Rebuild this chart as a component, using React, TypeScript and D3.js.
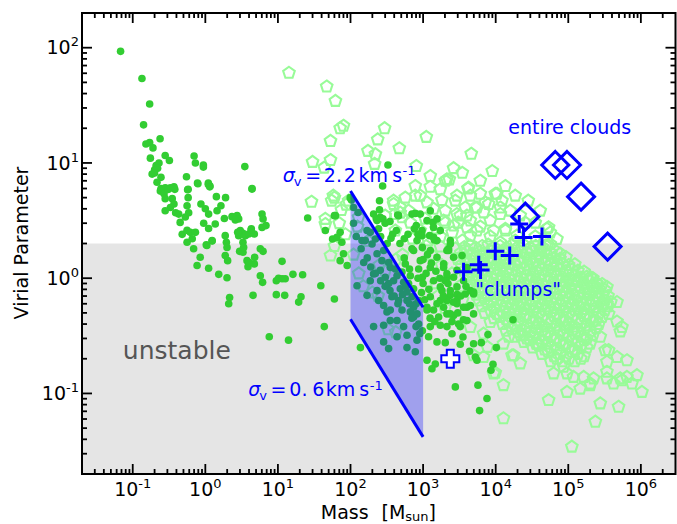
import React from 'react';
import * as d3 from 'd3';

// virial parameter vs mass: dense cores (filled), cloud fragments (pentagons),
// clumps (+) and entire clouds (diamonds)

const lowMassCores: [number, number][] = [
  [0.068, 93], [0.134, 54], [0.171, 32.5], [0.141, 21.4], [0.152, 14.6], [0.171, 15], [0.238, 16.2],
  [0.19, 13.5], [0.175, 11], [0.28, 11.6], [0.32, 10.5], [0.21, 9.5], [0.23, 10], [0.2, 8.7], [0.22, 9],
  [0.185, 8], [0.2, 8.2], [0.245, 7.5], [0.216, 6.8], [0.245, 6], [0.29, 6], [0.33, 6.1], [0.38, 5.9],
  [0.7, 11.5], [0.73, 10], [0.94, 9.6], [0.94, 9.2], [0.55, 7.6], [0.78, 6.7], [1.1, 6.7], [1.16, 6.3],
  [0.58, 5.9], [3.5, 9.3], [4.4, 6.0], [0.28, 6.1], [0.24, 5.7], [0.27, 5.4], [0.31, 5.9], [0.37, 6.2],
  [0.28, 4.9], [0.35, 4.9], [0.37, 4.4], [0.33, 4.1], [0.28, 3.85], [0.39, 3.7], [0.43, 3.6], [0.45, 3.05],
  [0.53, 3.4], [0.59, 3.7], [0.56, 4.25], [0.58, 5.0], [0.57, 5.85], [0.79, 6.6], [1.1, 6.5], [1.15, 6.2],
  [0.48, 2.4], [0.56, 2.6], [0.62, 2.5], [0.73, 2.5], [0.56, 2.05], [0.66, 2.2],
  [0.87, 4.4], [1.0, 4.0], [1.11, 3.6], [0.95, 3.0], [1.11, 2.7], [1.37, 2.95], [1.24, 2.1], [1.03, 1.95],
  [1.42, 5.1], [1.64, 4.25], [1.9, 5.0], [1.45, 3.85], [1.83, 3.3],
  [2.33, 3.42], [2.74, 3.49], [2.88, 3.27], [2.59, 3.2], [1.88, 2.34], [1.95, 2.05], [1.99, 1.85],
  [1.88, 1.57], [2.03, 1.42], [2.97, 1.71], [3.3, 1.68], [3.03, 2.59], [3.3, 2.45], [3.56, 2.34],
  [2.88, 2.34], [3.3, 2.05], [3.37, 1.85], [4.3, 2.68], [4.73, 2.42], [3.75, 1.42], [3.87, 1.26],
  [4.73, 1.33], [4.78, 1.52], [5.72, 1.8], [6.24, 1.71], [6.04, 3.6], [6.24, 3.27], [6.04, 2.76],
  [6.85, 2.86], [4.4, 5.93], [2.79, 2.5], [3.96, 2.42], [4.27, 2.62], [0.69, 1.8], [1.05, 1.92], [1.24, 2.12],
  [0.77, 1.29], [0.85, 1.52], [1.11, 1.22], [1.53, 1.08], [1.99, 1.01], [2.16, 0.68], [2.1, 0.6],
  [4.04, 1.37], [5.72, 1.05], [6.15, 0.92], [4.54, 0.71], [9.5, 0.95], [10.2, 1.0], [11.4, 0.99],
  [12.6, 0.99], [9.5, 0.72], [12.4, 0.71], [11.4, 1.4], [16.1, 1.08], [21.9, 1.07], [19.3, 0.62],
  [20.8, 0.69], [39, 0.86], [60, 0.66], [43.5, 0.38], [7.6, 0.31], [14, 0.29],
];

const midMassCores: [number, number][] = [
  [328, 9.6], [277, 6.3], [103, 4.77], [127, 3.72], [251, 4.7], [251, 3.93], [25.7, 3.33], [60, 3.49],
  [447, 3.53], [781, 3.65], [226, 3.3], [257, 3.37], [45, 2.59], [56.6, 2.19], [280, 3.27], [361, 2.22],
  [757, 2.68], [966, 2.59], [1368, 3.05], [1553, 2.12], [2245, 1.8], [703, 1.8], [1230, 2.34], [1430, 2.15],
  [99, 5.0], [110, 4.1], [169, 2.59], [144, 2.12], [220, 2.19], [62, 3.49], [72, 2.5], [65, 2.26],
  [76, 2.05], [80, 1.63], [72, 1.42], [90, 1.29], [460, 3.49], [428, 2.59], [703, 3.6], [806, 2.86],
  [966, 2.34], [232, 3.16], [244, 2.68], [208, 3.6], [137, 0.25],
  [187, 2.5], [160, 2.12], [198, 1.98], [232, 1.63], [286, 1.74], [271, 1.42], [335, 1.37], [353, 1.24],
  [414, 1.2], [437, 1.05], [512, 1.13], [539, 0.92], [392, 0.95], [335, 0.9], [485, 0.81], [600, 0.76],
  [703, 0.69], [600, 0.64], [740, 0.56], [512, 0.53], [740, 0.46], [437, 0.43], [286, 0.39], [208, 0.38],
  [286, 0.58], [232, 0.78], [187, 0.95], [208, 1.09], [257, 1.17], [152, 1.37], [301, 1.02], [372, 0.69],
  [460, 0.64], [631, 0.9], [740, 0.81], [569, 1.33], [667, 1.05], [825, 0.49], [869, 0.64], [353, 0.53],
  [244, 0.64], [123, 0.86], [169, 0.71], [318, 0.51], [353, 0.43], [437, 0.31], [539, 0.38], [600, 0.25],
  [781, 0.23], [825, 0.29], [667, 0.51], [869, 0.4], [286, 0.28], [335, 0.245], [600, 0.32],
  [1132, 0.56], [1132, 0.194], [1472, 0.18], [1324, 0.164], [2780, 0.114], [1553, 0.28],
  [5700, 0.118], [7590, 0.0905], [6000, 0.071], [9180, 0.179], [8610, 0.159], [5240, 0.207], [5520, 0.194],
  [4370, 0.232], [4960, 0.27], [6340, 0.276], [10200, 0.25], [7830, 0.324], [17300, 0.436], [3250, 0.267],
  [2020, 0.276], [2500, 0.33], [3540, 0.309], [3610, 0.436], [4960, 0.49], [4020, 0.56], [4470, 0.58],
  [1725, 0.64], [2370, 0.71], [2930, 0.72], [3810, 0.73], [4960, 0.73], [1395, 0.53], [1637, 0.46],
  [2130, 0.49], [2500, 0.42], [3080, 0.4], [1256, 0.38], [1725, 0.39], [977, 0.35], [1190, 0.31], [2630, 0.475],
  [914, 3.6], [1132, 3.16], [1256, 3.85], [1553, 3.27], [1725, 2.59], [1395, 2.26], [977, 1.85], [1256, 1.74],
  [1553, 1.52], [1918, 1.33], [1256, 1.24], [977, 1.02], [1395, 0.95], [1725, 0.84], [2130, 1.02], [2370, 0.78],
  [1256, 0.69], [1553, 0.6], [1132, 0.53], [1918, 0.56], [2370, 0.49], [2930, 0.64], [3610, 0.56], [4020, 0.43],
  [3250, 0.38], [2130, 0.38], [4470, 0.78], [3610, 0.95], [2930, 1.17], [2630, 1.52], [2130, 1.74], [2370, 2.12],
  [1395, 2.76], [825, 2.12], [740, 1.74], [4020, 1.24], [3440, 1.57], [914, 1.42], [869, 1.2],
  [2370, 1.98], [2245, 1.74], [1918, 1.24], [2130, 1.09], [2630, 1.02], [2020, 0.95], [2930, 0.84],
  [4960, 0.76], [2130, 0.64], [1820, 0.78], [2930, 0.6],
  [110, 3.0], [120, 2.3], [140, 1.8], [170, 1.5], [190, 1.25], [220, 1.1], [260, 0.95], [300, 0.85],
  [350, 0.78], [400, 0.7], [450, 0.6], [520, 0.72], [580, 0.85], [650, 0.6], [700, 0.45], [800, 0.38],
  [900, 0.33], [1000, 0.9], [1100, 1.1], [1200, 0.8], [1050, 0.65], [1300, 1.35], [1500, 1.15], [1700, 1.0],
  [1900, 0.7], [2200, 0.9], [2600, 0.62], [3000, 0.5], [3300, 0.7], [3900, 0.85], [1000, 1.45], [1150, 1.6],
  [850, 1.0], [950, 0.75], [1250, 0.45], [1450, 0.42], [800, 0.6], [650, 1.2], [550, 1.5], [480, 2.0],
  [380, 2.4], [320, 2.0], [260, 2.3], [300, 3.0], [350, 3.1], [550, 2.2], [620, 2.4], [850, 2.4],
];

const fragmentsOuter: [number, number][] = [
  [14.2, 60.5], [47, 46], [62, 34.5], [72, 20], [53, 15.5], [30, 10.2], [53, 10.6], [43.5, 9.1], [60, 5.0],
  [29, 4.6], [45, 2.95], [53, 1.57], [80, 21], [295, 20], [237, 16], [1107, 16.8], [174, 12.7], [220, 11.9],
  [470, 13.4], [4610, 12], [215, 9.8], [806, 9.4], [2630, 9.0], [2300, 7.2], [781, 6.3], [1256, 6.2],
  [1725, 5.9], [4150, 6.0], [58, 5.2], [87, 4.34], [392, 4.7], [569, 5.0], [914, 5.2], [1132, 4.54],
  [1820, 4.77], [2930, 5.2], [485, 4.1], [631, 3.85], [1395, 4.0], [2020, 3.85], [2930, 3.6], [4020, 3.49],
  [5520, 4.1], [45, 3.27], [6140, 5.4], [9870, 5.4], [8000, 4.4], [11600, 4.1], [53600, 2.76], [69800, 2.19],
  [392, 4.4], [414, 3.6], [512, 3.37], [94, 4.7], [129, 3.37], [2130, 7.2], [4240, 6.1], [10400, 5.4],
  [12200, 4.7], [7190, 4.54], [5240, 4.1], [3810, 4.1], [3250, 3.49], [6810, 3.72], [8430, 3.16],
  [11600, 3.6], [15900, 3.85], [1918, 3.16], [2630, 2.86], [4020, 2.76], [5520, 2.59], [9350, 2.59],
  [13600, 2.68], [19600, 2.34], [50800, 2.68], [41100, 1.74], [56500, 1.98], [77600, 1.63],
  [1256, 7.7], [2020, 7.0], [3470, 8.2], [6140, 7.0], [8970, 8.5], [13600, 6.3], [18600, 5.2], [28100, 4.7],
  [41100, 3.85], [781, 5.2], [2780, 4.7], [4470, 5.2], [21800, 3.49], [35100, 3.03],
  [485, 3.7], [667, 3.03], [914, 2.59], [1180, 2.12], [1730, 2.3], [2520, 2.49], [3470, 2.12], [4470, 2.34],
  [6140, 2.8], [8430, 2.3], [11600, 2.04], [710, 2.2], [414, 2.59], [301, 3.49], [4470, 3.16], [3050, 3.03],
  [2020, 3.03], [1520, 2.69], [1070, 3.28], [13600, 2.59], [18600, 2.12], [25600, 3.03], [35100, 2.3],
  [48200, 1.92], [56500, 2.49], [1730, 1.88], [2780, 1.81],
  [55, 4.7], [75, 3.9], [70, 3.0], [85, 2.4], [60, 1.9],
  [125, 2.8], [150, 2.4], [175, 2.1], [250, 1.3], [300, 1.15], [420, 1.45], [520, 1.6], [150, 0.85],
  [200, 0.75], [240, 0.7], [330, 0.36], [420, 0.34], [110, 1.6], [130, 1.1],
  [1300, 1.6], [1800, 1.3], [2500, 1.1], [1500, 0.9], [3200, 0.85], [2000, 0.55], [2800, 0.45], [1600, 0.7],
  [3500, 0.65], [1100, 1.9], [4470, 0.377], [6810, 0.33], [8430, 0.416], [7700, 0.253], [4960, 0.214],
  [201000, 1.02], [248000, 0.9], [341000, 0.84], [469000, 0.62], [341000, 0.6], [191000, 0.76], [132000, 0.95],
  [118000, 0.95], [223000, 0.86], [306000, 0.6], [469000, 0.42], [549000, 0.377], [276000, 0.31],
  [360000, 0.237], [469000, 0.207], [643000, 0.194], [883000, 0.144], [1035000, 0.103], [643000, 0.139],
  [493000, 0.0766], [276000, 0.0819], [236000, 0.0568], [112000, 0.0345], [53600, 0.0875], [96000, 0.103],
  [146000, 0.11], [62800, 0.149], [96000, 0.149], [118000, 0.139], [201000, 0.122], [341000, 0.135],
  [421000, 0.122], [12800, 0.118], [9350, 0.149], [21800, 0.182], [12800, 0.0608], [6810, 0.207],
  [9870, 0.151], [17700, 0.214], [201000, 0.118], [754000, 0.122], [520000, 0.135], [520000, 0.345],
  [360000, 0.49], [12800, 0.27], [16800, 0.214], [37100, 0.27], [24200, 0.32], [15100, 0.31], [86300, 0.17],
  [163000, 0.139], [223000, 0.135], [341000, 0.188], [323000, 0.237], [341000, 0.154], [549000, 0.13],
];

const fragmentsDense: [number, number][] = [
  [3700, 1.86], [4400, 1.92], [5300, 1.84], [6500, 1.9], [7900, 1.95], [9400, 1.85], [11500, 1.9], [14000, 1.83],
  [16600, 1.93], [20500, 1.87], [24300, 1.95], [30000, 1.84], [35500, 1.9], [44000, 1.86], [52000, 1.94],
  [3300, 1.66], [4050, 1.7], [4750, 1.63], [5950, 1.69], [7000, 1.65], [8700, 1.71], [10300, 1.64], [12600, 1.68],
  [15000, 1.72], [18400, 1.62], [22000, 1.69], [27000, 1.66], [32000, 1.7], [39500, 1.63], [47000, 1.68],
  [58000, 1.65], [69000, 1.7],
  [3000, 1.47], [3700, 1.5], [4400, 1.45], [5400, 1.52], [6400, 1.46], [7900, 1.49], [9500, 1.44], [11400, 1.5],
  [14000, 1.47], [16700, 1.53], [20400, 1.45], [24500, 1.49], [30000, 1.46], [36000, 1.51], [43000, 1.47],
  [53000, 1.44], [63500, 1.5], [77000, 1.47], [93000, 1.52],
  [3350, 1.3], [4000, 1.33], [4800, 1.28], [5900, 1.32], [7100, 1.29], [8600, 1.34], [10400, 1.3], [12500, 1.27],
  [15100, 1.33], [18300, 1.31], [22000, 1.35], [26800, 1.29], [32500, 1.32], [39000, 1.28], [47500, 1.34],
  [57500, 1.3], [69500, 1.27], [84000, 1.33], [101000, 1.3], [123000, 1.32],
  [3650, 1.16], [4450, 1.19], [5350, 1.14], [6500, 1.18], [7800, 1.15], [9500, 1.2], [11500, 1.16], [13900, 1.13],
  [16800, 1.18], [20300, 1.15], [24600, 1.2], [29700, 1.17], [36000, 1.14], [43500, 1.19], [52700, 1.16],
  [63700, 1.13], [77000, 1.18], [93000, 1.15], [113000, 1.19], [136000, 1.16], [165000, 1.14],
  [4000, 1.02], [4800, 1.05], [5900, 1.0], [7100, 1.04], [8600, 1.01], [10400, 1.06], [12500, 1.02], [15100, 0.99],
  [18300, 1.04], [22100, 1.01], [26800, 1.05], [32400, 1.02], [39200, 0.99], [47500, 1.04], [57400, 1.0],
  [69400, 1.05], [84000, 1.02], [102000, 0.99], [123000, 1.04], [149000, 1.01], [180000, 1.03], [218000, 1.0],
  [4430, 0.91], [5360, 0.94], [6480, 0.9], [7840, 0.93], [9490, 0.89], [11500, 0.94], [13900, 0.91], [16800, 0.88],
  [20300, 0.93], [24600, 0.9], [29700, 0.95], [36000, 0.91], [43500, 0.88], [52700, 0.93], [63700, 0.9],
  [77000, 0.94], [93200, 0.91], [113000, 0.88], [136000, 0.93], [165000, 0.9], [200000, 0.94], [242000, 0.91],
  [292000, 0.89],
  [4800, 0.81], [5900, 0.83], [7100, 0.79], [8600, 0.82], [10400, 0.8], [12500, 0.84], [15100, 0.81], [18300, 0.78],
  [22100, 0.83], [26800, 0.8], [32400, 0.84], [39200, 0.81], [47500, 0.78], [57400, 0.83], [69400, 0.8],
  [84000, 0.84], [102000, 0.81], [123000, 0.79], [149000, 0.83], [180000, 0.8], [218000, 0.84], [263000, 0.81],
  [319000, 0.79],
  [5360, 0.72], [6480, 0.74], [7840, 0.7], [9490, 0.73], [11500, 0.71], [13900, 0.75], [16800, 0.72], [20300, 0.69],
  [24600, 0.74], [29700, 0.71], [36000, 0.75], [43500, 0.72], [52700, 0.7], [63700, 0.74], [77000, 0.71],
  [93200, 0.75], [113000, 0.72], [136000, 0.69], [165000, 0.74], [200000, 0.71], [242000, 0.75], [292000, 0.72],
  [353000, 0.7],
  [5900, 0.64], [7100, 0.66], [8600, 0.62], [10400, 0.65], [12500, 0.63], [15100, 0.67], [18300, 0.64], [22100, 0.61],
  [26800, 0.66], [32400, 0.63], [39200, 0.67], [47500, 0.64], [57400, 0.62], [69400, 0.66], [84000, 0.63],
  [102000, 0.67], [123000, 0.64], [149000, 0.61], [180000, 0.66], [218000, 0.63], [263000, 0.67], [319000, 0.64],
  [386000, 0.62],
  [6480, 0.57], [7840, 0.59], [9490, 0.55], [11500, 0.58], [13900, 0.56], [16800, 0.6], [20300, 0.57], [24600, 0.54],
  [29700, 0.59], [36000, 0.56], [43500, 0.6], [52700, 0.57], [63700, 0.55], [77000, 0.59], [93200, 0.56],
  [113000, 0.6], [136000, 0.57], [165000, 0.54], [200000, 0.59], [242000, 0.56], [292000, 0.6], [353000, 0.57],
  [7100, 0.5], [8600, 0.52], [10400, 0.49], [12500, 0.51], [15100, 0.5], [18300, 0.53], [22100, 0.5], [26800, 0.48],
  [32400, 0.52], [39200, 0.5], [47500, 0.53], [57400, 0.51], [69400, 0.49], [84000, 0.52], [102000, 0.5],
  [123000, 0.53], [149000, 0.5], [180000, 0.48], [218000, 0.52], [263000, 0.5], [319000, 0.53],
  [9490, 0.45], [11500, 0.46], [13900, 0.44], [16800, 0.45], [20300, 0.43], [24600, 0.47], [29700, 0.45],
  [36000, 0.43], [43500, 0.46], [52700, 0.44], [63700, 0.47], [77000, 0.45], [93200, 0.43], [113000, 0.46],
  [136000, 0.44], [165000, 0.47], [200000, 0.45], [242000, 0.43], [292000, 0.46],
  [12500, 0.4], [15100, 0.41], [18300, 0.39], [22100, 0.4], [26800, 0.38], [32400, 0.41], [39200, 0.4],
  [47500, 0.38], [57400, 0.41], [69400, 0.39], [84000, 0.42], [102000, 0.4], [123000, 0.38], [149000, 0.41],
  [180000, 0.39], [218000, 0.42], [263000, 0.4],
  [13900, 0.35], [16800, 0.36], [20300, 0.34], [24600, 0.35], [29700, 0.34], [36000, 0.37], [43500, 0.35],
  [52700, 0.34], [63700, 0.36], [77000, 0.35], [93200, 0.37], [113000, 0.35], [136000, 0.34], [165000, 0.36],
  [200000, 0.35], [242000, 0.37],
  [18300, 0.31], [22100, 0.32], [26800, 0.3], [32400, 0.31], [39200, 0.3], [47500, 0.32], [57400, 0.31],
  [69400, 0.3], [84000, 0.32], [102000, 0.31], [123000, 0.33], [149000, 0.31], [180000, 0.3], [218000, 0.32],
  [24600, 0.28], [29700, 0.29], [36000, 0.27], [43500, 0.28], [52700, 0.27], [63700, 0.29], [77000, 0.28],
  [93200, 0.27], [113000, 0.29], [136000, 0.28], [165000, 0.29], [200000, 0.27],
  [32400, 0.25], [39200, 0.26], [47500, 0.24], [57400, 0.25], [69400, 0.24], [84000, 0.26], [102000, 0.25],
  [123000, 0.24], [149000, 0.26], [180000, 0.25],
  [43500, 0.22], [52700, 0.23], [63700, 0.21], [77000, 0.22], [93200, 0.21], [113000, 0.23], [136000, 0.22],
  [165000, 0.21],
  [57400, 0.19], [69400, 0.2], [84000, 0.19], [102000, 0.2], [123000, 0.19], [149000, 0.2],
];

const clumps: [number, number][] = [
  [3610, 1.14], [5840, 1.31], [6190, 1.18], [9870, 1.71], [15600, 1.57], [21100, 2.95], [24200, 2.26], [43400, 2.3],
];
const clumpOutlier: [number, number] = [2370, 0.2];
const entireClouds: [number, number][] = [
  [66200, 9.6], [96000, 9.6], [150000, 5.1], [25600, 3.42], [348000, 1.88],
];

// constant-sigma lines at R = 0.1 pc, M = 100 .. 1000
const sigmaMass = [100, 1000];
const alphaHigh = [5.7, 0.56];
const alphaLow = [0.44, 0.042];
const unstableLimit = 2;

const xMajor = [0.1, 1, 10, 100, 1e3, 1e4, 1e5, 1e6];
const xMajorExp = ['-1', '0', '1', '2', '3', '4', '5', '6'];
const yMajor = [0.1, 1, 10, 100];
const yMajorExp = ['-1', '0', '1', '2'];

const font = '"DejaVu Sans", sans-serif';
const blue = '#0000ff';

function minorTicks(domain: number[]) {
  const out: number[] = [];
  for (let e = -3; e <= 7; e++) {
    for (let k = 1; k <= 9; k++) {
      const v = k * Math.pow(10, e);
      if (v > domain[0] * 1.001 && v < domain[1] * 0.999) out.push(v);
    }
  }
  return out;
}

const App = () => {
  const x = d3.scaleLog().domain([0.02, 3e6]).range([82, 675.5]);
  const y = d3.scaleLog().domain([0.02, 200]).range([474, 13]);
  const [xl, xr] = x.range();
  const [yb, yt] = y.range();

  const pentagon =
    'M' +
    d3.range(5).map((i) => {
      const a = -Math.PI / 2 + (i * 2 * Math.PI) / 5;
      return `${(6.1 * Math.cos(a)).toFixed(2)},${(6.1 * Math.sin(a)).toFixed(2)}`;
    }).join('L') + 'Z';

  const line = d3.line<[number, number]>().x((d) => x(d[0])).y((d) => y(d[1]));
  const highLine = sigmaMass.map((m, i) => [m, alphaHigh[i]] as [number, number]);
  const lowLine = sigmaMass.map((m, i) => [m, alphaLow[i]] as [number, number]);
  const band = [...highLine, ...lowLine.slice().reverse()];

  const xMinor = minorTicks(x.domain()).filter((v) => !xMajor.includes(v));
  const yMinor = minorTicks(y.domain()).filter((v) => !yMajor.includes(v));

  const plusFilled = 'M-3.5,-9H3.5V-3.5H9V3.5H3.5V9H-3.5V3.5H-9V-3.5H-3.5Z';

  const sigmaLabels = [
    { at: [11.7, 6.86], a: '2.', b: '2', off: [41, 61, 75.6, 109.5, 119.7] },
    { at: [3.91, 0.0948], a: '0.', b: '6', off: [41, 64, 77.5, 111, 121.5] },
  ];

  return (
    <svg width={677} height={524} style={{ position: 'absolute', left: 0, top: 0 }} fontFamily={font}>
      <rect x={0} y={0} width={677} height={524} fill="#fff" />
      <rect x={xl} y={y(unstableLimit)} width={xr - xl} height={yb - y(unstableLimit)} fill="#e5e5e5" />

      <g fill="none" stroke="#98fb98" strokeWidth={2.1}>
        {[...fragmentsOuter, ...fragmentsDense].map((d, i) => (
          <path key={i} d={pentagon} transform={`translate(${x(d[0])},${y(d[1])})`} />
        ))}
      </g>

      <g fill="#32cd32">
        {[...lowMassCores, ...midMassCores].map((d, i) => (
          <circle key={i} cx={x(d[0])} cy={y(d[1])} r={3.8} />
        ))}
      </g>

      <path d={line(band as [number, number][]) + 'Z'} fill={blue} fillOpacity={0.3} stroke="none" />
      <path d={line(highLine) ?? ''} stroke={blue} strokeWidth={3} fill="none" />
      <path d={line(lowLine) ?? ''} stroke={blue} strokeWidth={3} fill="none" />

      <g stroke={blue} strokeWidth={3} fill="none">
        {clumps.map((d, i) => (
          <path key={i} d="M-9,0H9M0,-9V9" transform={`translate(${x(d[0])},${y(d[1])})`} />
        ))}
        {entireClouds.map((d, i) => (
          <path key={i} d="M0,-13.5L13.5,0L0,13.5L-13.5,0Z" transform={`translate(${x(d[0])},${y(d[1])})`} />
        ))}
      </g>
      <path d={plusFilled} fill="#fff" stroke={blue} strokeWidth={2}
        transform={`translate(${x(clumpOutlier[0])},${y(clumpOutlier[1])})`} />

      {/* annotations */}
      <text x={x(14900)} y={y(17.9)} fontSize={19} fill={blue}>entire clouds</text>
      <text x={x(5240)} y={y(0.695)} fontSize={19} fill={blue}>"clumps"</text>
      <text x={x(0.073)} y={y(0.198)} fontSize={25} fill="#555555">unstable</text>
      {sigmaLabels.map((l, i) => {
        const x0 = x(l.at[0]);
        const y0 = y(l.at[1]);
        return (
          <g key={i} fill={blue} fontSize={19}>
            <text x={x0} y={y0} fontStyle="italic">σ</text>
            <text x={x0 + 11} y={y0 + 4} fontSize={13}>v</text>
            <text x={x0 + 22.3} y={y0}>=</text>
            <text x={x0 + l.off[0]} y={y0}>{l.a}</text>
            <text x={x0 + l.off[1]} y={y0}>{l.b}</text>
            <text x={x0 + l.off[2]} y={y0}>km</text>
            <text x={x0 + l.off[3]} y={y0}>s</text>
            <text x={x0 + l.off[4]} y={y0 - 6.5} fontSize={13}>-1</text>
          </g>
        );
      })}

      {/* frame and ticks */}
      <rect x={xl} y={yt} width={xr - xl} height={yb - yt} fill="none" stroke="#000" strokeWidth={2} />
      <g stroke="#000" strokeWidth={1.8}>
        {xMajor.map((v) => (
          <g key={'xM' + v}>
            <line x1={x(v)} x2={x(v)} y1={yb} y2={yb - 10} />
            <line x1={x(v)} x2={x(v)} y1={yt} y2={yt + 10} />
          </g>
        ))}
        {xMinor.map((v) => (
          <g key={'xm' + v}>
            <line x1={x(v)} x2={x(v)} y1={yb} y2={yb - 5} />
            <line x1={x(v)} x2={x(v)} y1={yt} y2={yt + 5} />
          </g>
        ))}
        {yMajor.map((v) => (
          <g key={'yM' + v}>
            <line x1={xl} x2={xl + 10} y1={y(v)} y2={y(v)} />
            <line x1={xr} x2={xr - 10} y1={y(v)} y2={y(v)} />
          </g>
        ))}
        {yMinor.map((v) => (
          <g key={'ym' + v}>
            <line x1={xl} x2={xl + 5} y1={y(v)} y2={y(v)} />
            <line x1={xr} x2={xr - 5} y1={y(v)} y2={y(v)} />
          </g>
        ))}
      </g>

      <g fontSize={19} fill="#000">
        {xMajor.map((v, i) => (
          <text key={'xl' + v} x={x(v)} y={495.5} textAnchor="middle">
            10<tspan dy={-8} fontSize={13}>{xMajorExp[i]}</tspan>
          </text>
        ))}
        {yMajor.map((v, i) => (
          <text key={'yl' + v} x={79} y={y(v) + 6.6} textAnchor="end">
            10<tspan dy={-8} fontSize={13}>{yMajorExp[i]}</tspan>
          </text>
        ))}
        <text x={320.8} y={518.5}>Mass</text>
        <text x={381.5} y={518.5}>[M<tspan fontSize={13} dy={2}>sun</tspan><tspan dy={-2}>]</tspan></text>
        <text transform="translate(27.5,243) rotate(-90)" textAnchor="middle">Virial Parameter</text>
      </g>
    </svg>
  );
};

export default App;
